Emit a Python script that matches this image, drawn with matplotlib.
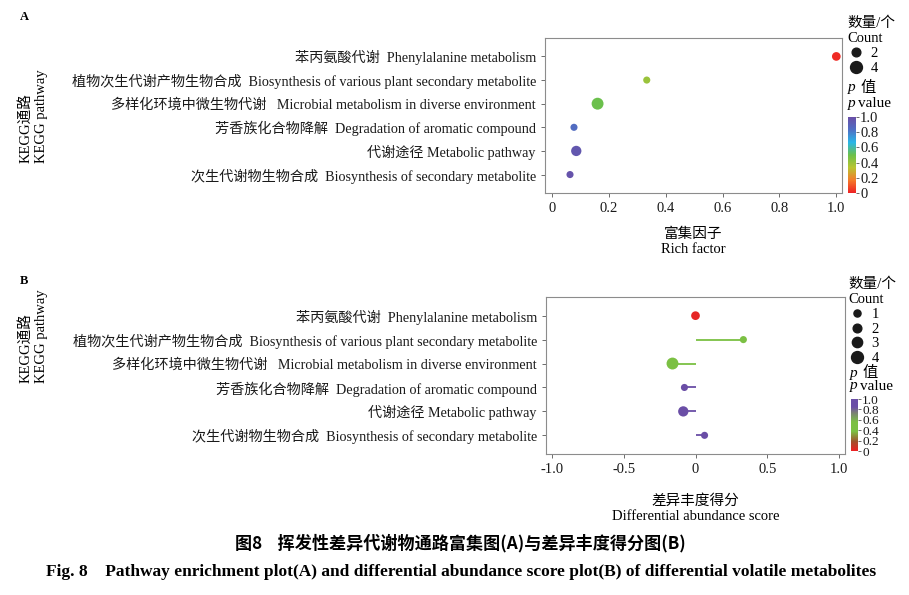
import numpy as np
import matplotlib
matplotlib.use('Agg')
import matplotlib.pyplot as plt
from matplotlib.colors import LinearSegmentedColormap
from matplotlib.lines import Line2D

plt.rcParams['font.family'] = ['Liberation Serif', 'Noto Sans CJK SC']
plt.rcParams['font.size'] = 10.2

# pathways, top to bottom
pathway_cn = ['苯丙氨酸代谢', '植物次生代谢产物生物合成', '多样化环境中微生物代谢',
              '芳香族化合物降解', '代谢途径', '次生代谢物生物合成']
pathway_en = ['Phenylalanine metabolism', 'Biosynthesis of various plant secondary metabolite',
              'Microbial metabolism in diverse environment', 'Degradation of aromatic compound',
              'Metabolic pathway', 'Biosynthesis of secondary metabolite']
sep = ['  ', '  ', '   ', '  ', ' ', '  ']
rich_factor = [1.0, 0.333, 0.16, 0.077, 0.085, 0.063]
da_score = [0.0, 0.333, -0.16, -0.077, -0.085, 0.063]
count = [2, 1, 4, 1, 3, 1]
p_value = [0.02, 0.40, 0.50, 0.85, 0.95, 0.97]

labels = [c + s + e for c, s, e in zip(pathway_cn, sep, pathway_en)]
ypos = np.arange(len(labels))[::-1]

cmap_a = LinearSegmentedColormap.from_list('a', ['#ee2124', '#f47a2a', '#b9c531', '#6cc04a',
                                                 '#29b6e8', '#4f6fc4', '#6a4ea6'])
cmap_b = LinearSegmentedColormap.from_list('b', [(0, '#ee2124'), (0.18, '#a0522d'),
                                                 (0.38, '#7bc043'), (0.56, '#7bc043'),
                                                 (0.75, '#7a7a7a'), (0.85, '#6a4ea6'),
                                                 (1, '#6a4ea6')])


def size_of(c):
    d_px = 5.5 + 1.6 * np.asarray(c, dtype=float)
    return (d_px * 0.72) ** 2


def style_axes(ax):
    for s in ax.spines.values():
        s.set_color('#8c8c8c')
        s.set_linewidth(0.8)
    ax.tick_params(colors='#555555', length=3, width=0.6, labelcolor='#1a1a1a')
    ax.set_yticks(ypos)
    ax.set_yticklabels(labels)
    ax.set_ylim(-0.78, 5.78)


def size_legend(ax, counts, anchor, spacing):
    handles = [Line2D([], [], ls='none', marker='o', color='#1a1a1a',
                      markersize=(5.5 + 1.6 * c) * 0.72) for c in counts]
    leg = ax.legend(handles, [str(c) for c in counts], title='数量/个\nCount',
                    loc='upper left', bbox_to_anchor=anchor, bbox_transform=fig.transFigure,
                    frameon=False, handletextpad=0.4, labelspacing=spacing,
                    borderpad=0, borderaxespad=0, alignment='left', handlelength=1.2,
                    fontsize=10.5, title_fontsize=10.5)
    return leg


def p_title(x, y1, y2):
    # italic p, then the rest as normal text
    fig.text(x, y1, 'p', style='italic', fontsize=11, va='center')
    fig.text(x + 13 / W, y1, '值', fontsize=11, va='center')
    fig.text(x, y2, 'p', style='italic', fontsize=11, va='center')
    fig.text(x + 10 / W, y2, 'value', fontsize=11, va='center')


def colorbar(sc, rect, fs):
    cax = fig.add_axes(rect)
    cb = fig.colorbar(sc, cax=cax, ticks=[0, 0.2, 0.4, 0.6, 0.8, 1.0])
    cb.ax.set_yticklabels(['0', '0.2', '0.4', '0.6', '0.8', '1.0'], fontsize=fs)
    cb.outline.set_visible(False)
    cb.ax.tick_params(length=2, width=0.6, pad=1, colors='#555555', labelcolor='#1a1a1a')
    return cb


fig = plt.figure(figsize=(9.09, 5.95), dpi=100)
W, H = 909, 595

# ---- panel A
axA = fig.add_axes([545 / W, 1 - 193 / H, 297 / W, 155 / H])
style_axes(axA)
scA = axA.scatter(rich_factor, ypos, s=size_of(count), c=p_value, cmap=cmap_a,
                  vmin=0, vmax=1, edgecolors='none', zorder=3, clip_on=False)
axA.set_xlim(-0.025, 1.02)
axA.set_xticks([0, 0.2, 0.4, 0.6, 0.8, 1.0])
axA.set_xticklabels(['0', '0.2', '0.4', '0.6', '0.8', '1.0'], fontsize=10.5)
axA.set_xlabel('富集因子\nRich factor', fontsize=10.5, labelpad=9, linespacing=1.25)
size_legend(axA, [2, 4], (847 / W, 1 - 17 / H), 0.12)
p_title(848 / W, 1 - 88 / H, 1 - 103 / H)
colorbar(scA, [848 / W, 1 - 193 / H, 8 / W, 76 / H], 10.5)

# ---- panel B
axB = fig.add_axes([546 / W, 1 - 454 / H, 299 / W, 157 / H])
style_axes(axB)
colsB = cmap_b(np.asarray(p_value))
axB.hlines(ypos, 0, da_score, colors=colsB, lw=1.3, zorder=2)
scB = axB.scatter(da_score, ypos, s=size_of(count), c=p_value, cmap=cmap_b,
                  vmin=0, vmax=1, edgecolors='none', zorder=3)
axB.set_xlim(-1.04, 1.04)
axB.set_xticks([-1.0, -0.5, 0, 0.5, 1.0])
axB.set_xticklabels(['-1.0', '-0.5', '0', '0.5', '1.0'], fontsize=10.5)
axB.set_xlabel('差异丰度得分\nDifferential abundance score', fontsize=10.5, labelpad=13,
               linespacing=1.25)
size_legend(axB, [1, 2, 3, 4], (848 / W, 1 - 278 / H), 0.1)
p_title(850 / W, 1 - 373 / H, 1 - 386 / H)
colorbar(scB, [851 / W, 1 - 451 / H, 7 / W, 52 / H], 9.5)

# y titles and panel letters
for ybot in (163, 383):
    fig.text(25 / W, 1 - ybot / H, 'KEGG通路', rotation=90, ha='center', va='bottom',
             fontsize=10.5)
    fig.text(41 / W, 1 - ybot / H, 'KEGG pathway', rotation=90, ha='center', va='bottom',
             fontsize=10.5)
fig.text(20 / W, 1 - 17 / H, 'A', fontsize=9, fontweight='bold', va='center')
fig.text(20 / W, 1 - 281 / H, 'B', fontsize=9, fontweight='bold', va='center')

# caption
fig.text(460 / W, 1 - 543 / H, '图8    挥发性差异代谢物通路富集图(A)与差异丰度得分图(B)',
         ha='center', va='center', fontsize=12.3, fontweight='bold',
         family=['Noto Sans CJK SC'])
fig.text(461 / W, 1 - 572 / H,
         'Fig. 8    Pathway enrichment plot(A) and differential abundance score plot(B) '
         'of differential volatile metabolites',
         ha='center', va='center', fontsize=12.5, fontweight='bold')

fig.savefig('out.png', dpi=100)
